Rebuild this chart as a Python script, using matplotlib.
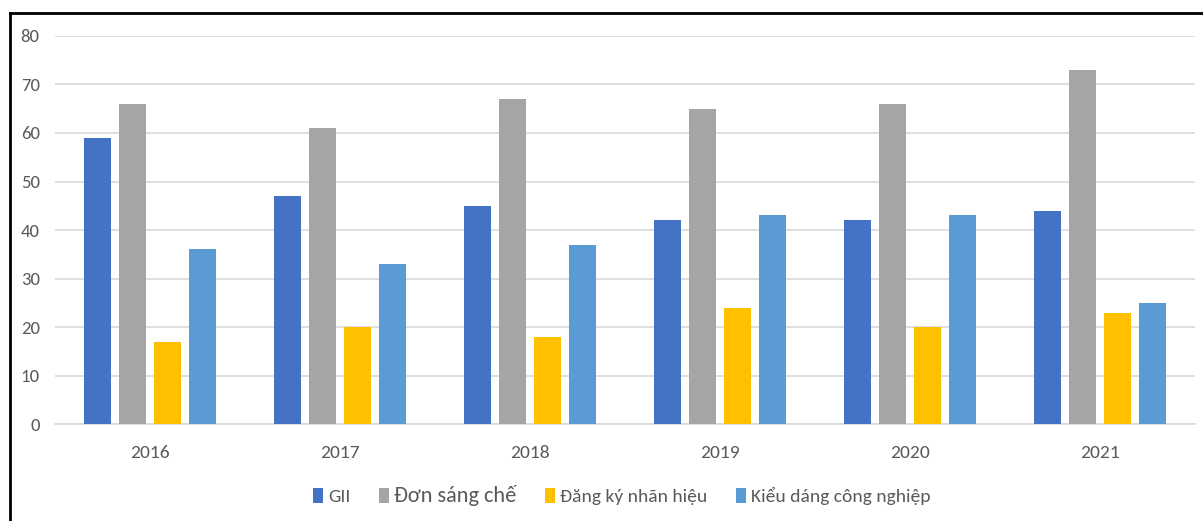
import numpy as np
import matplotlib.pyplot as plt
from matplotlib.lines import Line2D

years = ['2016', '2017', '2018', '2019', '2020', '2021']
gii = [59, 47, 45, 42, 42, 44]
don_sang_che = [66, 61, 67, 65, 66, 73]
nhan_hieu = [17, 20, 18, 24, 20, 23]
kieu_dang = [36, 33, 37, 43, 43, 25]

series = [
    ('GII', gii, '#4472C4'),
    ('Đơn sáng chế', don_sang_che, '#A5A5A5'),
    ('Đăng ký nhãn hiệu', nhan_hieu, '#FFC000'),
    ('Kiểu dáng công nghiệp', kieu_dang, '#5B9BD5'),
]

plt.rcParams['font.family'] = ['Calibri', 'Carlito', 'Open Sans', 'DejaVu Sans']

fig = plt.figure(figsize=(12.03, 5.21), dpi=100)
ax = fig.add_axes([0.0457, 0.186, 0.9477, 0.745])

x = np.arange(len(years))
slot = 0.184
width = 0.142
for i, (name, vals, col) in enumerate(series):
    ax.bar(x + (i - 1.5) * slot, vals, width, color=col, label=name, zorder=3)

ax.set_xlim(-0.5, len(years) - 0.5)
ax.set_ylim(0, 80)
ax.set_yticks(range(0, 81, 10))
ax.set_xticks(x)
ax.set_xticklabels(years)
ax.yaxis.grid(True, color='#D9D9D9', linewidth=1.2, zorder=0)
for s in ['top', 'right', 'left']:
    ax.spines[s].set_visible(False)
ax.spines['bottom'].set_color('#D9D9D9')
ax.spines['bottom'].set_linewidth(1.2)
ax.tick_params(axis='both', length=0, colors='#595959')
ax.tick_params(axis='x', pad=15, labelsize=14)
ax.tick_params(axis='y', pad=11, labelsize=13.5)

leg = ax.legend(loc='upper center', bbox_to_anchor=(0.497, -0.112), ncol=4,
                frameon=False, fontsize=14, handlelength=0.55, handleheight=0.8,
                handletextpad=0.25, columnspacing=1.45)
for t in leg.get_texts():
    t.set_color('#595959')
leg.get_texts()[1].set_fontsize(16)

# frame lines along top and left edge
fig.add_artist(Line2D([0.0083, 0.0083], [0.0, 0.975], color='black', linewidth=2))
fig.add_artist(Line2D([0.0083, 1.0], [0.975, 0.975], color='black', linewidth=2))

fig.savefig('out.png', dpi=100)
